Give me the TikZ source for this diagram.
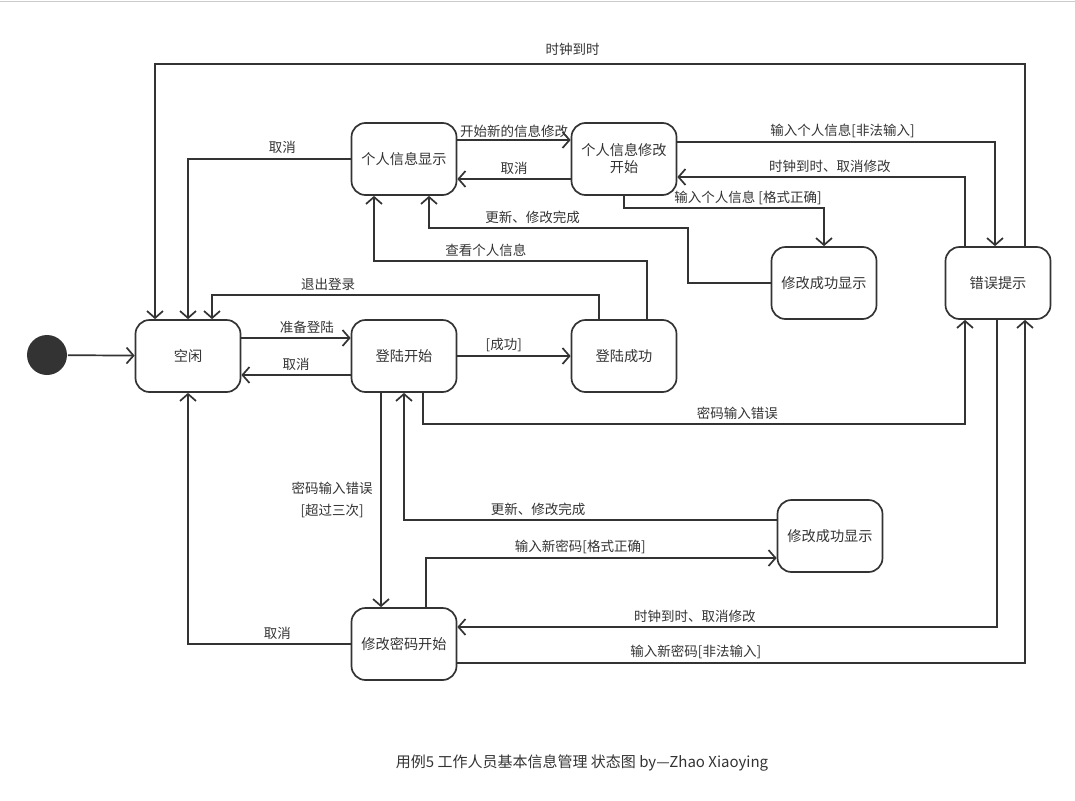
\documentclass[tikz,border=0pt]{standalone}
\usepackage{fontspec}
\newfontfamily\cjk{Noto Sans CJK SC}
\usetikzlibrary{arrows.meta}
\definecolor{viiva}{HTML}{333333}

\begin{document}
\begin{tikzpicture} [x=1pt, y=-1pt, line width=1.7pt, draw=viiva, text=viiva,
                    zhuangtai/.style={rectangle,rounded corners=14pt,draw,align=center,
                      minimum width=105pt,minimum height=72pt,font=\cjk\fontsize{14.2}{17}\selectfont},
                    biaoqian/.style={font=\cjk\fontsize{13.5}{22}\selectfont,inner sep=3.5pt},
                    pil/.style={-{Straight Barb[length=7pt,width=16pt]}}]

\useasboundingbox (0,0) rectangle (1075,800);
\draw[line width=0.6pt, draw=black!20] (0,1) -- (1075,1);

\node[circle,fill=viiva,minimum size=40pt,inner sep=0pt] (0) at (47,355) {};
\node[zhuangtai] (1) at (188,356) {空闲};
\node[zhuangtai] (2) at (404,356) {登陆开始};
\node[zhuangtai] (3) at (624,356) {登陆成功};
\node[zhuangtai] (4) at (404,159) {个人信息显示};
\node[zhuangtai] (5) at (624,159) {个人信息修改\\开始};
\node[zhuangtai] (6) at (824,283) {修改成功显示};
\node[zhuangtai] (7) at (998,283) {错误提示};
\node[zhuangtai] (8) at (830,536) {修改成功显示};
\node[zhuangtai] (9) at (404,644) {修改密码开始};

 \path[every node/.style={biaoqian}]
    (0) edge[pil] (1)
    ([yshift=18pt]1.east) edge[pil] node[above,pos=0.6] {准备登陆} ([yshift=18pt]2.west)
    ([yshift=-19pt]2.west) edge[pil] node[above] {取消} ([yshift=-19pt]1.east)
    (2) edge[pil] node[above,pos=0.41] {[成功]} (3)
    ([yshift=19pt]4.east) edge[pil] node[above,inner sep=2pt] {开始新的信息修改} ([yshift=19pt]5.west)
    ([yshift=-20pt]5.west) edge[pil] node[above] {取消} ([yshift=-20pt]4.east)
    ([xshift=-23pt]2.south) edge[pil] node[left,align=center,xshift=-4pt] {密码输入错误\\{}[超过三次]} ([xshift=-23pt]9.north);

\draw[pil] ([xshift=27pt]7.north) -- (1025,64) -- node[biaoqian,above,pos=0.52,inner sep=8pt] {时钟到时} (155,64) -- ([xshift=-33pt]1.north);
\draw[pil] (4.west) -- node[biaoqian,above,pos=0.42,inner sep=5pt] {取消} (188,159) -- (1.north);
\draw[pil] ([xshift=-25pt]3.north) -- (599,295) -- node[biaoqian,above,pos=0.7] {退出登录} (212,295) -- ([xshift=24pt]1.north);
\draw[pil] ([xshift=23pt]3.north) -- (647,261) -- node[biaoqian,above,pos=0.59] {查看个人信息} (374,261) -- ([xshift=-30pt]4.south);
\draw[pil] (6.west) -- (688,283) -- (688,228) -- node[biaoqian,above,pos=0.6] {更新、修改完成} (429,228) -- ([xshift=25pt]4.south);
\draw[pil] ([yshift=17pt]5.east) -- node[biaoqian,above,pos=0.52] {输入个人信息[非法输入]} (995,142) -- ([xshift=-3pt]7.north);
\draw[pil] ([xshift=-33pt]7.north) -- (965,177) -- node[biaoqian,above,pos=0.47] {时钟到时、取消修改} ([yshift=-18pt]5.east);
\draw[pil] (5.south) -- (624,208) -- node[biaoqian,above,pos=0.62,inner sep=2pt] {输入个人信息 [格式正确]} (824,208) -- (6.north);
\draw[pil] ([xshift=19pt]2.south) -- (423,424) -- node[biaoqian,above,pos=0.58] {密码输入错误} (965,424) -- ([xshift=-33pt]7.south);
\draw[pil] ([yshift=16pt]8.west) -- node[biaoqian,above,pos=0.64] {更新、修改完成} (404,520) -- (2.south);
\draw[pil] ([xshift=22pt]9.north) -- (426,558) -- node[biaoqian,above,pos=0.44] {输入新密码[格式正确]} ([yshift=-22pt]8.west);
\draw[pil] ([xshift=-1pt]7.south) -- (997,627) -- node[biaoqian,above,pos=0.56] {时钟到时、取消修改} ([yshift=17pt]9.east);
\draw[pil] ([yshift=-19pt]9.east) -- node[biaoqian,above,pos=0.42] {输入新密码[非法输入]} (1025,663) -- ([xshift=27pt]7.south);
\draw[pil] (9.west) -- node[biaoqian,above,pos=0.45] {取消} (188,644) -- (1.south);

\node[font=\cjk\fontsize{15}{18}\selectfont] (tt) at (582,763) {用例5 工作人员基本信息管理 状态图 by—Zhao Xiaoying};
\end{tikzpicture}
\end{document}
